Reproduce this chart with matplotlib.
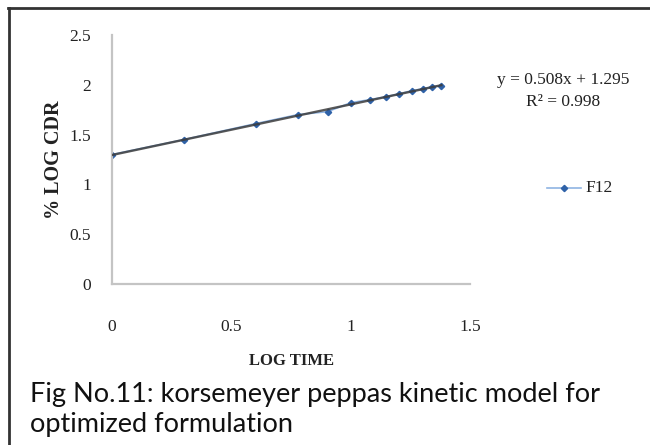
import matplotlib.pyplot as plt
from matplotlib.lines import Line2D
import numpy as np

# log time (h) vs log cumulative drug release
log_time = [0.0, 0.301, 0.602, 0.778, 0.903, 1.0, 1.079, 1.146, 1.204, 1.255, 1.301, 1.342, 1.380]
log_cdr = [1.30, 1.45, 1.61, 1.70, 1.73, 1.82, 1.85, 1.88, 1.91, 1.94, 1.96, 1.98, 1.99]
x_ticks = [0, 0.5, 1, 1.5]
x_tick_labels = ['0', '0.5', '1', '1.5']
y_ticks = [0, 0.5, 1, 1.5, 2, 2.5]
y_tick_labels = ['0', '0.5', '1', '1.5', '2', '2.5']
series_name = 'F12'
slope, intercept, r2 = 0.508, 1.295, 0.998

serif = 'Liberation Serif'
blue = '#2f62a8'
light_blue = '#8fb4e3'

fig = plt.figure(figsize=(6.5, 4.45), dpi=100, facecolor='white')
ax = fig.add_axes([0.1723, 0.3618, 0.5508, 0.5596])
ax.set_facecolor('none')

# series with markers, then the linear trendline on top
ax.plot(log_time, log_cdr, color=light_blue, lw=1.2, marker='D', ms=3.2,
        mfc=blue, mec=blue, zorder=2)
fit_x = np.array([log_time[0], log_time[-1]])
ax.plot(fit_x, slope * fit_x + intercept, color='#3c3c3c', lw=1.7, alpha=0.85, zorder=3)

ax.set_xlim(0, 1.5)
ax.set_ylim(0, 2.5)
ax.set_xticks(x_ticks)
ax.set_xticklabels(x_tick_labels)
ax.set_yticks(y_ticks)
ax.set_yticklabels(y_tick_labels)
ax.tick_params(length=0, labelsize=12.5, colors='#222222')
ax.tick_params(axis='x', pad=25)
ax.tick_params(axis='y', pad=15)
for lbl in ax.get_xticklabels() + ax.get_yticklabels():
    lbl.set_fontfamily(serif)

for side in ['top', 'right']:
    ax.spines[side].set_visible(False)
for side in ['left', 'bottom']:
    ax.spines[side].set_color('#c4c4c4')
    ax.spines[side].set_linewidth(1.6)

ax.set_xlabel('LOG TIME', fontsize=12, fontweight='bold', fontfamily=serif,
              color='#222222', labelpad=13)
ax.set_ylabel('% LOG CDR', fontsize=14.5, fontweight='bold', fontfamily=serif,
              color='#222222', labelpad=4)

# trendline equation
fig.text(0.866, 0.820, f'y = {slope:.3f}x + {intercept:.3f}',
         ha='center', va='center', fontsize=12.5, fontfamily=serif, color='#222222')
fig.text(0.866, 0.771, f'R\u00b2 = {r2:.3f}', ha='center', va='center',
         fontsize=12.5, fontfamily=serif, color='#222222')

# legend entry drawn by hand at the right of the plot
leg_y = 1 - 188 / 445
fig.add_artist(Line2D([547 / 650, 581 / 650], [leg_y, leg_y], color=light_blue, lw=1.2))
fig.add_artist(Line2D([564 / 650], [leg_y], marker='D', ms=3.2, color=blue, lw=0))
fig.text(585 / 650, leg_y, series_name, ha='left', va='center', fontsize=12.5,
         fontfamily=serif, color='#222222')

# caption below the chart
fig.text(30 / 650, 1 - 402 / 445, 'Fig No.11: korsemeyer peppas kinetic model for',
         ha='left', va='baseline', fontsize=19.5, fontfamily='Lato', color='#111111')
fig.text(30 / 650, 1 - 432 / 445, 'optimized formulation',
         ha='left', va='baseline', fontsize=19.5, fontfamily='Lato', color='#111111')

# frame lines on the left and top edges
fig.add_artist(Line2D([9 / 650, 9 / 650], [0, 1 - 8 / 445], color='#333333', lw=2))
fig.add_artist(Line2D([8 / 650, 1], [1 - 8 / 445, 1 - 8 / 445], color='#333333', lw=2))

fig.savefig('out.png', dpi=100, facecolor='white')
